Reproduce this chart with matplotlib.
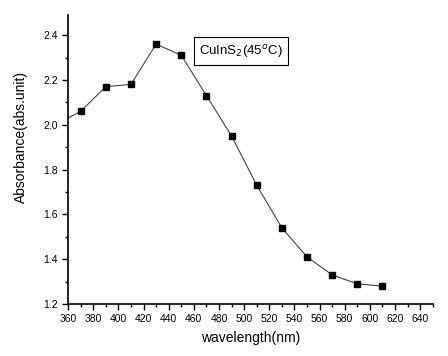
import numpy as np
import matplotlib.pyplot as plt
from matplotlib.ticker import MultipleLocator

plt.rcParams['font.family'] = ['Liberation Sans', 'DejaVu Sans']

# data
wavelength = [350, 370, 390, 410, 430, 450, 470, 490, 510, 530, 550, 570, 590, 610]
absorbance = [2.00, 2.06, 2.17, 2.18, 2.36, 2.31, 2.13, 1.95, 1.73, 1.54, 1.41, 1.33, 1.29, 1.28]
label = r'CuInS$_2$(45$^o$C)'

fig = plt.figure(figsize=(4.48, 3.56), dpi=100)
ax = fig.add_axes([0.152, 0.146, 0.814, 0.812])

ax.plot(wavelength, absorbance, color='#444444', lw=0.8, marker='s', ms=4.5,
        mfc='black', mec='black')

ax.set_xlim(360, 650)
ax.set_ylim(1.2, 2.49)
ax.xaxis.set_major_locator(MultipleLocator(20))
ax.xaxis.set_minor_locator(MultipleLocator(10))
ax.yaxis.set_major_locator(MultipleLocator(0.2))
ax.yaxis.set_minor_locator(MultipleLocator(0.1))
ax.yaxis.set_major_formatter(plt.FuncFormatter(lambda v, p: f'{v:.1f}'))
ax.tick_params(which='major', direction='out', length=4, width=1, labelsize=7.5, colors='black')
ax.tick_params(which='minor', direction='out', length=2.5, width=1)
for s in ['top', 'right']:
    ax.spines[s].set_visible(False)
for s in ['left', 'bottom']:
    ax.spines[s].set_linewidth(1.2)

ax.set_xlabel('wavelength(nm)', fontsize=10, labelpad=5)
ax.set_ylabel('Absorbance(abs.unit)', fontsize=10)
ax.yaxis.set_label_coords(-0.11, 0.578)

ax.text(0.36, 0.875, label, transform=ax.transAxes, fontsize=9.5, va='center', ha='left',
        bbox=dict(boxstyle='square,pad=0.4', fc='white', ec='black', lw=0.8))

fig.savefig('out.png', dpi=100)
